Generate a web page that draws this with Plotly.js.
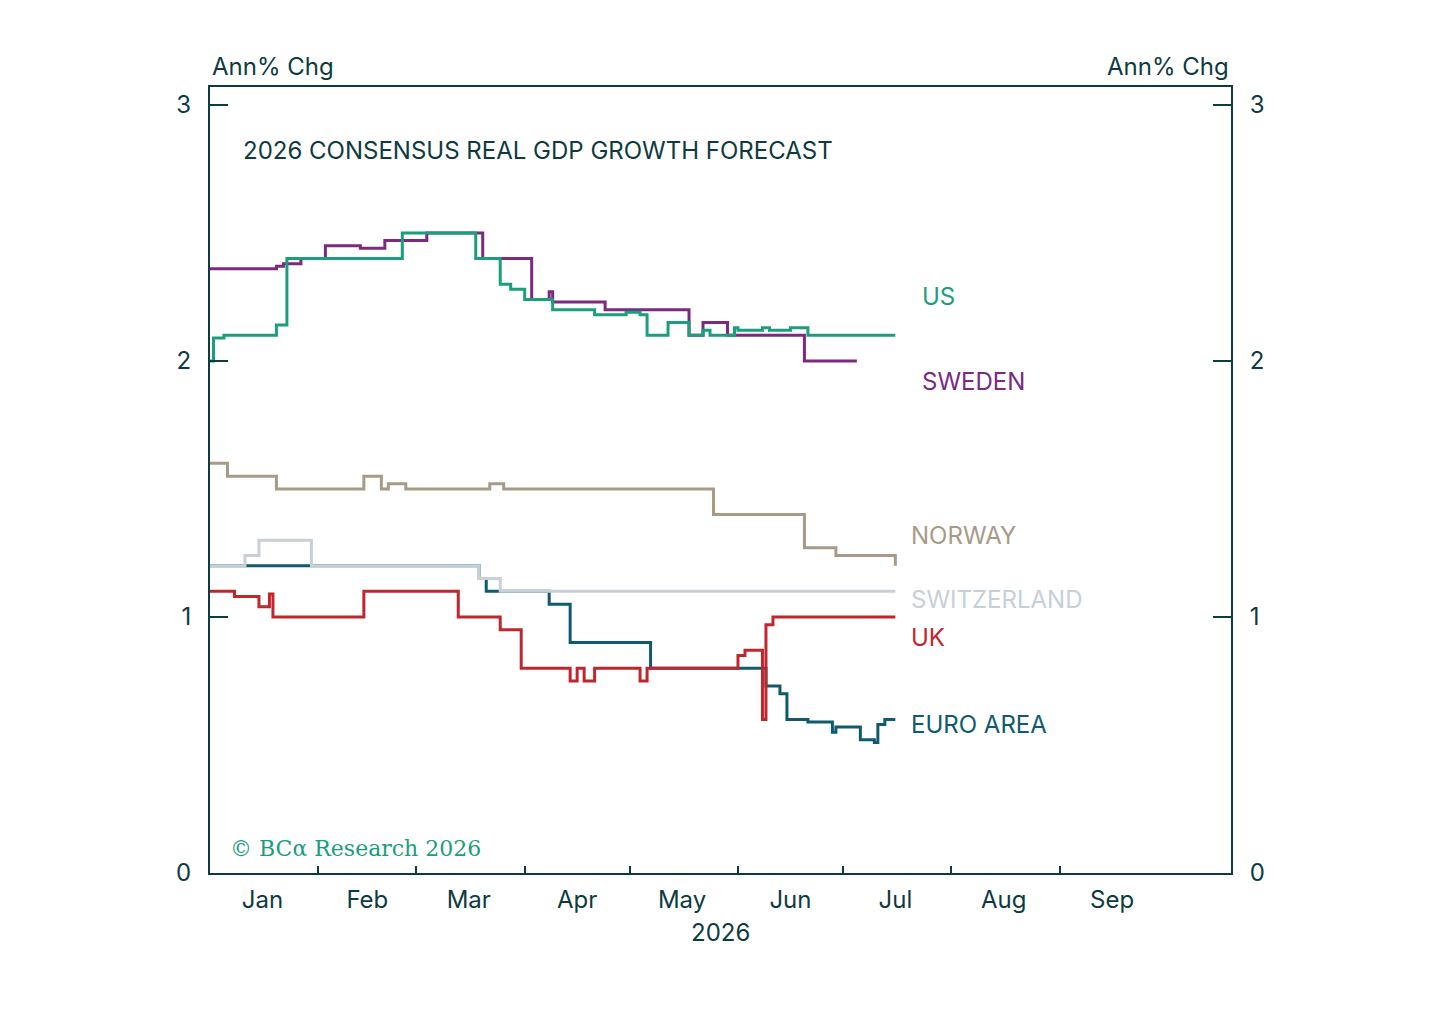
<!DOCTYPE html>
<html><head><meta charset="utf-8">
<script src="https://cdn.plot.ly/plotly-3.0.1.min.js"></script>
<style>body{margin:0;background:#fff}</style></head>
<body><div id="chart" style="width:1440px;height:1032px"></div>
<script>
const usDates=['2026-01-01','2026-01-02','2026-01-05','2026-01-20','2026-01-23','2026-02-25','2026-03-18','2026-03-25','2026-03-28','2026-04-01','2026-04-09','2026-04-21','2026-04-30','2026-05-04','2026-05-06','2026-05-12','2026-05-18','2026-05-22','2026-05-24','2026-05-31','2026-06-01','2026-06-08','2026-06-10','2026-06-16','2026-06-21','2026-07-16'];
const usVals=[2.0,2.09,2.1,2.14,2.4,2.5,2.4,2.3,2.28,2.24,2.2,2.18,2.19,2.18,2.1,2.15,2.1,2.12,2.1,2.13,2.12,2.13,2.12,2.13,2.1,2.1];
const seDates=['2026-01-01','2026-01-20','2026-01-22','2026-01-27','2026-02-03','2026-02-13','2026-02-20','2026-03-04','2026-03-20','2026-04-03','2026-04-08','2026-04-09','2026-04-24','2026-05-18','2026-05-22','2026-05-29','2026-06-20','2026-07-05'];
const seVals=[2.36,2.37,2.38,2.4,2.45,2.44,2.47,2.5,2.4,2.24,2.27,2.23,2.2,2.1,2.15,2.1,2.0,2.0];
const noDates=['2026-01-01','2026-01-04','2026-01-06','2026-01-20','2026-02-14','2026-02-19','2026-02-21','2026-02-26','2026-03-22','2026-03-26','2026-05-25','2026-06-20','2026-06-29','2026-07-15','2026-07-16'];
const noVals=[1.6,1.6,1.55,1.5,1.55,1.5,1.52,1.5,1.52,1.5,1.4,1.27,1.24,1.24,1.2];
const euDates=['2026-01-01','2026-03-19','2026-03-21','2026-04-08','2026-04-14','2026-05-07','2026-06-09','2026-06-13','2026-06-15','2026-06-21','2026-06-28','2026-06-29','2026-07-06','2026-07-10','2026-07-11','2026-07-13','2026-07-16'];
const euVals=[1.2,1.15,1.1,1.05,0.9,0.8,0.73,0.7,0.6,0.59,0.55,0.57,0.52,0.51,0.58,0.6,0.6];
const chDates=['2026-01-01','2026-01-11','2026-01-15','2026-01-30','2026-03-19','2026-03-25','2026-07-16'];
const chVals=[1.2,1.24,1.3,1.2,1.15,1.1,1.1];
const ukDates=['2026-01-01','2026-01-08','2026-01-14','2026-01-15','2026-01-18','2026-01-19','2026-02-14','2026-03-13','2026-03-25','2026-03-31','2026-04-14','2026-04-16','2026-04-18','2026-04-21','2026-05-04','2026-05-06','2026-06-01','2026-06-03','2026-06-08','2026-06-09','2026-06-11','2026-07-16'];
const ukVals=[1.1,1.08,1.08,1.04,1.09,1.0,1.1,1.0,0.95,0.8,0.75,0.8,0.75,0.8,0.75,0.8,0.85,0.87,0.6,0.97,1.0,1.0];
const monthTicks=['2026-01-01','2026-02-01','2026-03-01','2026-04-01','2026-05-01','2026-06-01','2026-07-01','2026-08-01','2026-09-01'];
const monthMids=['2026-01-16','2026-02-15','2026-03-16','2026-04-16','2026-05-16','2026-06-16','2026-07-16','2026-08-16','2026-09-16'];
const monthLabels=['Jan','Feb','Mar','Apr','May','Jun','Jul','Aug','Sep'];
const yTicks=[0,1,2,3];
const series=[
 {name:'EURO AREA',x:euDates,y:euVals,c:'#0e5a6e'},
 {name:'SWITZERLAND',x:chDates,y:chVals,c:'#c5d0d8'},
 {name:'NORWAY',x:noDates,y:noVals,c:'#a89a87'},
 {name:'UK',x:ukDates,y:ukVals,c:'#c0272d'},
 {name:'SWEDEN',x:seDates,y:seVals,c:'#7b2a7f'},
 {name:'US',x:usDates,y:usVals,c:'#1a9e7e'}];
const dark='#0d3b3f', F='Inter, Lato, sans-serif';
const data=series.map(s=>({x:s.x,y:s.y,type:'scatter',mode:'lines',line:{color:s.c,width:3,shape:'hv'},hoverinfo:'skip'}));
data.push({x:['2026-01-01'],y:[0],yaxis:'y2',mode:'markers',marker:{opacity:0},showlegend:false,hoverinfo:'skip'});
data.push({x:['2026-01-01'],y:[0],xaxis:'x2',mode:'markers',marker:{opacity:0},showlegend:false,hoverinfo:'skip'});
const lab=[['US','2026-07-23',2.25,'#1a9e7e'],['SWEDEN','2026-07-23',1.92,'#7b2a7f'],['NORWAY','2026-07-20',1.32,'#a89a87'],['SWITZERLAND','2026-07-20',1.07,'#c5d0d8'],['UK','2026-07-20',0.92,'#c0272d'],['EURO AREA','2026-07-20',0.58,'#0e5a6e']];
const ann=lab.map(l=>({x:l[1],y:l[2],text:l[0],showarrow:false,xanchor:'left',font:{family:F,size:24,color:l[3]}}));
ann.push(
 {xref:'paper',yref:'paper',x:0,y:1.005,xanchor:'left',yanchor:'bottom',text:'Ann% Chg',showarrow:false,font:{family:F,size:24,color:dark}},
 {xref:'paper',yref:'paper',x:1,y:1.005,xanchor:'right',yanchor:'bottom',text:'Ann% Chg',showarrow:false,font:{family:F,size:24,color:dark}},
 {xref:'paper',yref:'paper',x:0.03,y:0.94,xanchor:'left',text:'2026 CONSENSUS REAL GDP GROWTH FORECAST',showarrow:false,font:{family:F,size:24,color:dark}},
 {xref:'paper',yref:'paper',x:0.018,y:0.013,xanchor:'left',text:'© BCα Research 2026',showarrow:false,font:{family:'DejaVu Serif, serif',size:22,color:'#1a9e7e'}},
 {xref:'paper',yref:'paper',x:0.5,y:-0.055,yanchor:'top',text:'2026',showarrow:false,font:{family:F,size:24,color:dark}});
const ax={showgrid:false,zeroline:false,showline:true,linecolor:dark,linewidth:2,ticks:'inside',tickcolor:dark,tickwidth:2,tickfont:{family:F,size:24,color:dark}};
const xr=['2026-01-01','2026-10-20'];
const layout={width:1440,height:1032,showlegend:false,paper_bgcolor:'#fff',plot_bgcolor:'#fff',
 margin:{l:210,r:209,t:87,b:159},
 xaxis:Object.assign({},ax,{type:'date',range:xr,tickvals:monthTicks,showticklabels:false,ticklen:7,mirror:true}),
 xaxis2:{type:'date',range:xr,overlaying:'x',side:'bottom',showgrid:false,zeroline:false,showline:false,ticks:'',tickvals:monthMids,ticktext:monthLabels,tickfont:{family:F,size:24,color:dark},ticklabelstandoff:10},
 yaxis:Object.assign({},ax,{range:[0,3.07],tickvals:yTicks,ticklen:18,ticklabelstandoff:12}),
 yaxis2:Object.assign({},ax,{range:[0,3.07],tickvals:yTicks,ticklen:18,overlaying:'y',side:'right',ticklabelstandoff:12}),
 annotations:ann};
Plotly.newPlot('chart',data,layout,{staticPlot:true});
</script></body></html>
